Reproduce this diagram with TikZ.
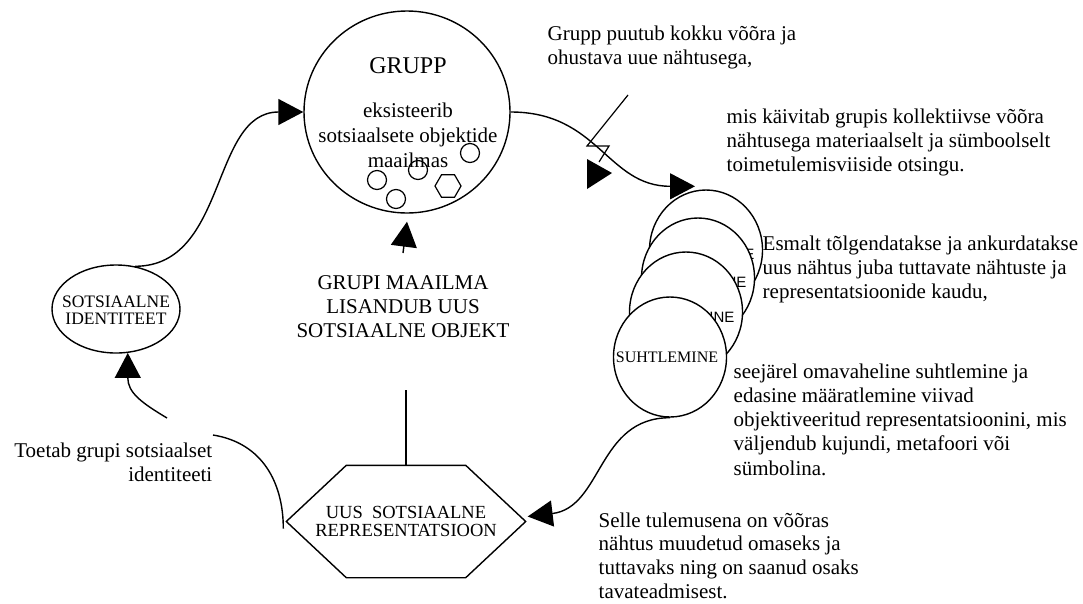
\documentclass[tikz,border=0pt]{standalone}
\usepackage{fontspec}
\setmainfont{Liberation Serif}
\newfontfamily\arialf{Liberation Sans}
\usetikzlibrary{arrows.meta,shapes.geometric,calc}
\begin{document}
\begin{tikzpicture}[x=1pt,y=-1pt,line width=1.4pt,
  arr/.style={-{Triangle[length=25pt,width=26pt]}},
  txt/.style={inner sep=0pt,font=\fontsize{21}{24.2}\selectfont},
  shape0/.style={draw,inner sep=0pt},
  small/.style={draw,circle,minimum size=19pt,inner sep=0pt,line width=1.2pt},
  stack/.style={draw,fill=white,ellipse,minimum width=113pt,minimum height=120pt,inner sep=0pt},
  stacklbl/.style={inner sep=0pt,font=\arialf\fontsize{15}{15}\selectfont}]
\useasboundingbox (0,0) rectangle (1083,603);

% big circle GRUPP
\node[shape0,ellipse,minimum width=206pt,minimum height=202pt] (big) at (407,112) {};
\node[txt,anchor=north,font=\fontsize{24}{26}\selectfont] (grupp) at (408,57) {GRUPP};
\node[txt,anchor=north,align=center,font=\fontsize{21}{25}\selectfont] (exist) at (408,102) {eksisteerib\\sotsiaalsete objektide\\maailmas};
\node[small] (o1) at (377,180) {};
\node[small] (o2) at (396,199) {};
\node[small] (o3) at (418,170) {};
\node[small] (o4) at (470,153) {};
\node[draw,regular polygon,regular polygon sides=6,minimum size=26pt,inner sep=0pt,line width=1.2pt] (o5) at (448,186) {};

% identity ellipse
\node[shape0,ellipse,minimum width=128pt,minimum height=88pt] (ident) at (116,309) {};
\node[inner sep=0pt,align=center,font=\fontsize{17.5}{17}\selectfont] (identtxt) at (116,310)
  {SOTSIAALNE\\IDENTITEET};

% hexagon
\node[inner sep=0pt,minimum width=238pt,minimum height=111pt,align=center,font=\fontsize{18.5}{17.5}\selectfont] (hex) at (406,521.5)
  {UUS\ \ SOTSIAALNE\\REPRESENTATSIOON};
\draw (hex.west) -- ($(hex.north west)+(60,0)$) -- ($(hex.north east)+(-60,0)$) -- (hex.east)
  -- ($(hex.south east)+(-60,0)$) -- ($(hex.south west)+(60,0)$) -- cycle;

% stacked circles
\node[stack] (c1) at (706,250) {};
\node[stacklbl] (c1t) at (706,254) {SUHTLEMINE};
\node[stack] (c2) at (698,278) {};
\node[stacklbl] (c2t) at (698,282) {SUHTLEMINE};
\node[stack] (c3) at (686,312) {};
\node[stacklbl] (c3t) at (686,317) {SUHTLEMINE};
\node[stack] (c4) at (670,357) {};
\node[inner sep=0pt,font=\fontsize{16}{16}\selectfont] (c4t) at (667,357) {SUHTLEMINE};

% texts
\node[txt,anchor=north west,align=left] (t1) at (547,25) {Grupp puutub kokku võõra ja\\ohustava uue nähtusega,};
\node[txt,anchor=north west,align=left] (t2) at (726,108) {mis käivitab grupis kollektiivse võõra\\nähtusega materiaalselt ja sümboolselt\\toimetulemisviiside otsingu.};
\node[txt,anchor=north west,align=left] (t3) at (762,235) {Esmalt tõlgendatakse ja ankurdatakse\\uus nähtus juba tuttavate nähtuste ja\\representatsioonide kaudu,};
\node[txt,anchor=north west,align=left] (t4) at (733,363) {seejärel omavaheline suhtlemine ja\\edasine määratlemine viivad\\objektiveeritud representatsioonini, mis\\väljendub kujundi, metafoori või\\sümbolina.};
\node[txt,anchor=north west,align=left,font=\fontsize{21}{23.7}\selectfont] (t5) at (598,512) {Selle tulemusena on võõras\\nähtus muudetud omaseks ja\\tuttavaks ning on saanud osaks\\tavateadmisest.};
\node[txt,anchor=north east,align=right] (t6) at (213,442) {Toetab grupi sotsiaalset\\identiteeti};
\node[txt,anchor=north,align=center,font=\fontsize{21}{24}\selectfont] (gm) at (403,275) {GRUPI MAAILMA\\LISANDUB UUS\\SOTSIAALNE OBJEKT};

% connectors
\draw[arr] (ident.66) .. controls +(93,0) and +(-93,0) .. (big.west);
\draw[arr] (big.east) .. controls +(88,0) and +(-88,0) .. ([xshift=-11pt,yshift=3pt]c1.north);
\draw[arr] (c4.south) .. controls +(-73,0) and +(75,-9) .. ([xshift=2pt,yshift=5pt]hex.east);
\coordinate (td) at (167,418);
\draw[arr] (td) .. controls +(-25,-15) and +(0,40) .. (ident.-75);
\coordinate (tg) at (213,435);
\draw (tg) .. controls +(50,8) and +(0,-45) .. ([xshift=-3pt,yshift=-7pt]hex.west);
\coordinate (vt) at (406,390);
\draw (vt) -- (hex.north);
\draw[arr] ([yshift=22pt]gm.north) -- ([yshift=-8pt]big.south);

% lightning bolt
\coordinate (b1) at (628,95);
\coordinate (b2) at (587,146);
\coordinate (b3) at (609,146);
\coordinate (b4) at (599,162);
\draw[line width=1.2pt] (b1) -- (b2) -- (b3) -- (b4);
\fill (587,159) -- (587,189) -- (612,173) -- cycle;
\end{tikzpicture}
\end{document}
